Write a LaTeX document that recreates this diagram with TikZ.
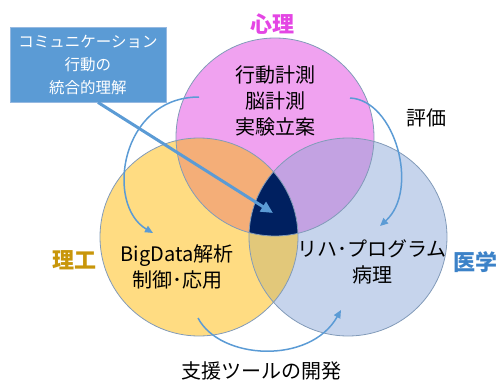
\documentclass[tikz,border=0pt]{standalone}
\usepackage{fontspec}
\setmainfont{Noto Sans CJK JP}
\usetikzlibrary{arrows.meta}
\definecolor{psyfill}{RGB}{240,162,240}
\definecolor{engfill}{RGB}{255,220,130}
\definecolor{medfill}{RGB}{198,212,236}
\definecolor{psyeng}{RGB}{244,174,120}
\definecolor{psymed}{RGB}{195,162,226}
\definecolor{engmed}{RGB}{226,200,122}
\definecolor{core}{RGB}{0,32,96}
\definecolor{rimcol}{RGB}{130,155,185}
\definecolor{calloutblue}{RGB}{91,155,213}
\definecolor{calloutrim}{RGB}{150,185,225}
\definecolor{psytext}{RGB}{228,70,228}
\definecolor{engtext}{RGB}{200,150,10}
\definecolor{medtext}{RGB}{60,130,200}
\definecolor{flowblue}{RGB}{91,155,213}
\begin{document}
\begin{tikzpicture}[x=1pt,y=-1pt,
  venn/.style={circle,minimum size=198pt,inner sep=0pt},
  rim/.style={circle,minimum size=198pt,inner sep=0pt,draw=rimcol,line width=0.8pt},
  body/.style={font=\fontsize{20}{26}\selectfont,align=center,text=black,inner sep=0pt},
  field/.style={font=\fontsize{22}{26}\selectfont\bfseries,inner sep=0pt},
  calloutbox/.style={fill=calloutblue,draw=calloutrim,line width=0.8pt,minimum width=156pt,minimum height=75pt,inner sep=0pt},
  callouttext/.style={font=\fontsize{15.5}{23}\selectfont,align=center,text=white,inner sep=0pt},
  flow/.style={draw=flowblue,line width=1.5pt,-{Triangle[length=8pt,width=7pt]}},
  pointer/.style={draw=flowblue,line width=3pt,-{Triangle[length=12pt,width=11pt]}}]
\useasboundingbox (0,0) rectangle (501,383);
% circles
\node[venn,fill=psyfill] (psy) at (275,137) {};
\node[venn,fill=engfill] (eng) at (199,237) {};
\node[venn,fill=medfill] (med) at (348,237) {};
% pairwise overlaps
\begin{scope}
  \clip (275,137) circle (99);
  \fill[psyeng] (199,237) circle (99);
  \fill[psymed] (348,237) circle (99);
\end{scope}
\begin{scope}
  \clip (199,237) circle (99);
  \fill[engmed] (348,237) circle (99);
\end{scope}
\begin{scope}
  \clip (275,137) circle (99);
  \clip (199,237) circle (99);
  \fill[core] (348,237) circle (99);
\end{scope}
% outlines
\node[rim] (psyrim) at (275,137) {};
\node[rim] (engrim) at (199,237) {};
\node[rim] (medrim) at (348,237) {};
% labels
\node[field,text=psytext] (psylabel) at (272,24) {心理};
\node[field,text=engtext] (englabel) at (74,260) {理工};
\node[field,text=medtext] (medlabel) at (475,262) {医学};
\node[body] (psybody) at (275,101) {行動計測\\脳計測\\実験立案};
\node[body] (engbody) at (177,267) {BigData解析\\制御･応用};
\node[body] (medbody) at (372,262) {リハ･プログラム\\病理};
\node[body] (evaluation) at (426,118) {評価};
\node[body] (tools) at (261,371) {支援ツールの開発};
% curved flows
\coordinate (f1a) at (199,97);
\coordinate (f1b) at (153,233);
\coordinate (f2a) at (350,98);
\coordinate (f2b) at (380,226);
\coordinate (f3a) at (198,318);
\coordinate (f3b) at (341,310);
\draw[flow] (f1a) .. controls (120,97) and (105,205) .. (f1b);
\draw[flow] (f2a) .. controls (395,100) and (420,190) .. (f2b);
\draw[flow] (f3a) .. controls (220,360) and (310,365) .. (f3b);
% callout
\node[calloutbox] (callout) at (88,64.5) {};
\node[callouttext] (callouttxt) at (88,65) {コミュニケーション\\行動の\\統合的理解};
\coordinate (coretip) at (273,213);
\draw[pointer] ([xshift=10pt]callout.south) -- (coretip);
\end{tikzpicture}
\end{document}
